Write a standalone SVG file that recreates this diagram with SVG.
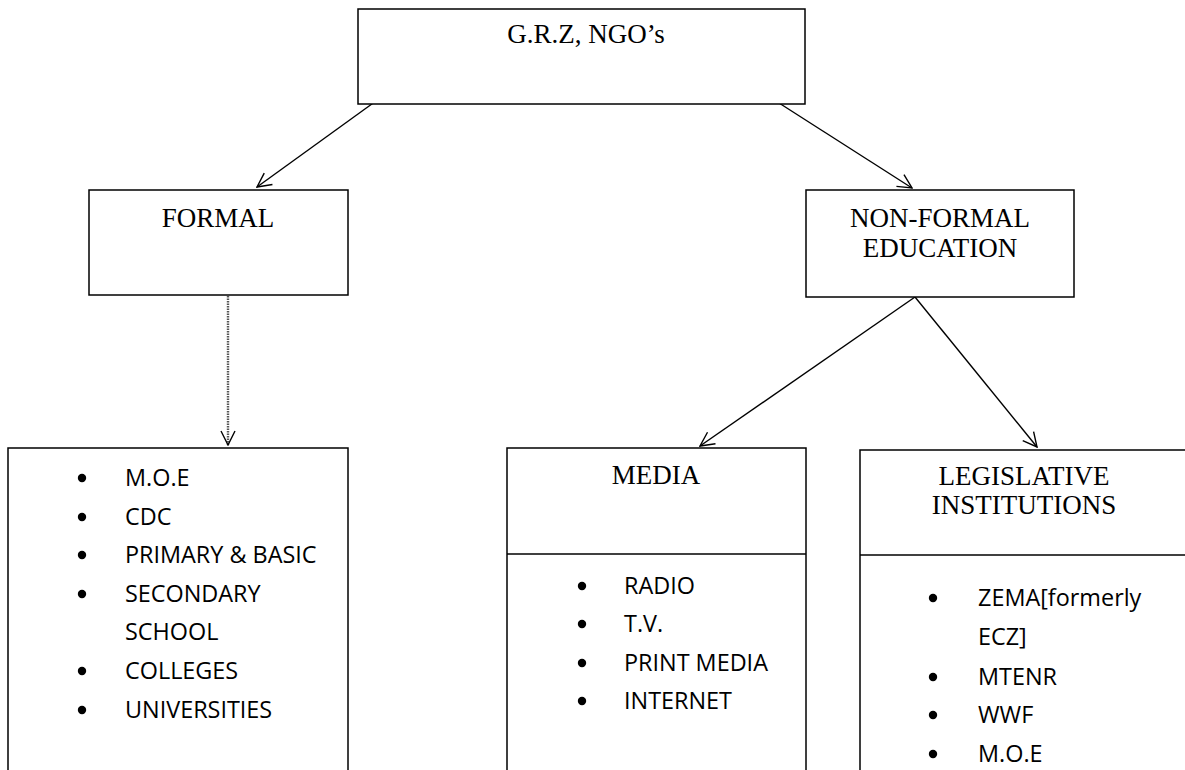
<svg xmlns="http://www.w3.org/2000/svg" width="1185" height="770" viewBox="0 0 1185 770">
<style>
.box{fill:#fff;stroke:#000;stroke-width:1.5}
.ttl{font-family:"Liberation Serif","Times New Roman",serif;font-size:27px;fill:#000;text-anchor:middle}
.li{font-family:"Open Sans","Noto Sans",sans-serif;font-size:23.4px;fill:#000}
.con{stroke:#000;stroke-width:1.4;fill:none;marker-end:url(#arr)}
.dash{stroke:#555;stroke-width:2.4;stroke-dasharray:1.5 1;fill:none;marker-end:url(#arr)}
</style>
<defs>
<marker id="arr" viewBox="0 0 16 16" refX="15" refY="8" markerWidth="16" markerHeight="16" markerUnits="userSpaceOnUse" orient="auto">
<path d="M1,1 L15,8 L1,15" fill="none" stroke="#000" stroke-width="1.4"/>
</marker>
</defs>
<rect width="1185" height="770" fill="#fff"/>
<g id="connectors">
<line class="con" x1="376" y1="101" x2="257" y2="187"/>
<line class="con" x1="779" y1="103" x2="912" y2="188"/>
<line class="dash" x1="228" y1="296" x2="228" y2="445"/>
<line class="con" x1="915" y1="297" x2="700" y2="446"/>
<line class="con" x1="915" y1="297" x2="1037" y2="447"/>
</g>
<g id="grz">
<rect class="box" x="358" y="9" width="447" height="95"/>
<text class="ttl" x="586" y="43">G.R.Z, NGO’s</text>
</g>
<g id="formal">
<rect class="box" x="89" y="190" width="259" height="105"/>
<text class="ttl" x="218" y="227">FORMAL</text>
</g>
<g id="nonformal">
<rect class="box" x="806" y="190" width="268" height="107"/>
<text class="ttl" x="940" y="227">NON-FORMAL</text>
<text class="ttl" x="940" y="257">EDUCATION</text>
</g>
<g id="formal-list">
<rect class="box" x="8" y="448" width="340" height="340"/>
<g fill="#000">
<circle cx="82" cy="478" r="4.2"/><circle cx="82" cy="517" r="4.2"/><circle cx="82" cy="555" r="4.2"/><circle cx="82" cy="594" r="4.2"/><circle cx="82" cy="671" r="4.2"/><circle cx="82" cy="710" r="4.2"/>
</g>
<text class="li" x="125" y="486">M.O.E</text>
<text class="li" x="125" y="525">CDC</text>
<text class="li" x="125" y="563">PRIMARY &amp; BASIC</text>
<text class="li" x="125" y="602">SECONDARY</text>
<text class="li" x="125" y="640">SCHOOL</text>
<text class="li" x="125" y="679">COLLEGES</text>
<text class="li" x="125" y="718">UNIVERSITIES</text>
</g>
<g id="media">
<rect class="box" x="507" y="448" width="299" height="340"/>
<line x1="507" y1="554" x2="806" y2="554" stroke="#000" stroke-width="1.5"/>
<text class="ttl" x="656" y="484">MEDIA</text>
<g fill="#000">
<circle cx="582" cy="586" r="4.2"/><circle cx="582" cy="624" r="4.2"/><circle cx="582" cy="663" r="4.2"/><circle cx="582" cy="701" r="4.2"/>
</g>
<text class="li" x="624" y="594">RADIO</text>
<text class="li" x="624" y="632">T.V.</text>
<text class="li" x="624" y="671">PRINT MEDIA</text>
<text class="li" x="624" y="709">INTERNET</text>
</g>
<g id="legislative">
<rect class="box" x="860" y="450" width="340" height="340"/>
<line x1="860" y1="555" x2="1185" y2="555" stroke="#000" stroke-width="1.5"/>
<text class="ttl" x="1024" y="485">LEGISLATIVE</text>
<text class="ttl" x="1024" y="514">INSTITUTIONS</text>
<g fill="#000">
<circle cx="933" cy="598" r="4.2"/><circle cx="933" cy="677" r="4.2"/><circle cx="933" cy="715" r="4.2"/><circle cx="933" cy="754" r="4.2"/>
</g>
<text class="li" x="978" y="606">ZEMA[formerly</text>
<text class="li" x="978" y="645">ECZ]</text>
<text class="li" x="978" y="685">MTENR</text>
<text class="li" x="978" y="723">WWF</text>
<text class="li" x="978" y="762">M.O.E</text>
</g>
</svg>
